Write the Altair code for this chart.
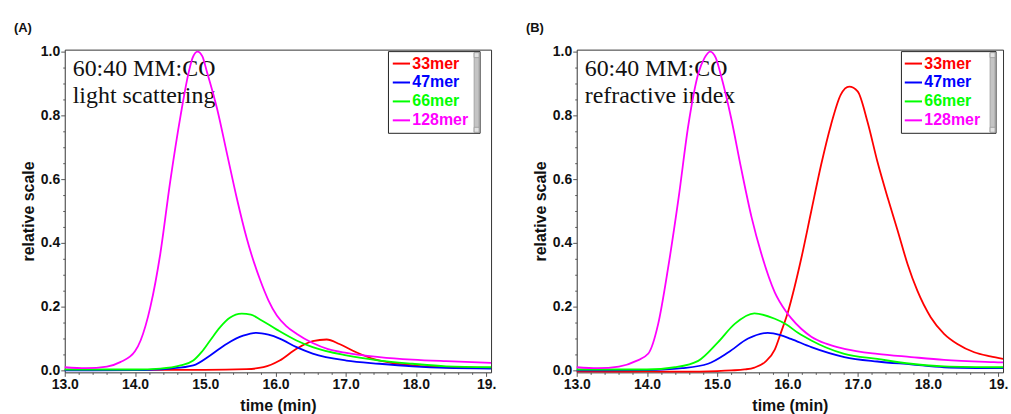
import altair as alt
import pandas as pd

# ---- series names and colours -------------------------------------------
names = ["33mer", "47mer", "66mer", "128mer"]
colors = ["#ff0000", "#0000ff", "#00ff00", "#ff00ff"]

# ---- (A) light scattering traces: retention time (min) / relative signal --
a33_t = [13.0, 15.0, 15.59, 15.83, 16.06, 16.3, 16.53, 16.73, 16.91, 17.15, 17.39, 17.67, 17.95, 18.43, 19.07]
a33_v = [0.002, 0.002, 0.004, 0.010, 0.031, 0.068, 0.092, 0.097, 0.083, 0.057, 0.036, 0.023, 0.016, 0.010, 0.008]

a47_t = [13.0, 14.0, 14.5, 14.83, 15.07, 15.31, 15.54, 15.73, 15.9, 16.06, 16.3, 16.53, 17.01, 17.48, 17.95, 18.43, 19.07]
a47_v = [0.0, 0.001, 0.006, 0.016, 0.047, 0.084, 0.109, 0.118, 0.112, 0.100, 0.073, 0.053, 0.031, 0.021, 0.013, 0.008, 0.006]

a66_t = [13.0, 14.0, 14.36, 14.65, 14.83, 14.95, 15.07, 15.21, 15.35, 15.52, 15.65, 15.78, 16.02, 16.3, 16.53, 17.01, 17.48,
         17.95, 18.43, 19.07]
a66_v = [0.003, 0.003, 0.006, 0.016, 0.031, 0.058, 0.094, 0.135, 0.165, 0.178, 0.175, 0.160, 0.128, 0.094, 0.073, 0.047, 0.031,
         0.021, 0.013, 0.010]

a128_t = [13.0, 13.3, 13.6, 13.79, 14.0, 14.08, 14.22, 14.36, 14.5, 14.65, 14.76, 14.82, 14.89, 14.96, 15.02, 15.17, 15.31,
          15.45, 15.59, 15.78, 15.9, 16.02, 16.15, 16.3, 16.53, 16.75, 17.01, 17.48, 17.95, 18.43, 19.07]
a128_v = [0.010, 0.007, 0.012, 0.026, 0.060, 0.094, 0.200, 0.365, 0.590, 0.800, 0.930, 0.980, 1.000, 0.985, 0.940, 0.820, 0.680,
          0.540, 0.415, 0.285, 0.220, 0.172, 0.140, 0.115, 0.086, 0.067, 0.055, 0.042, 0.034, 0.029, 0.024]

# ---- (B) refractive index traces -----------------------------------------
b33_t = [13.0, 13.5, 14.0, 14.5, 15.0, 15.2, 15.39, 15.53, 15.68, 15.82, 15.91, 16.01, 16.1, 16.2, 16.34, 16.48, 16.62,
         16.76, 16.88, 17.0, 17.14, 17.28, 17.43, 17.57, 17.71, 17.85, 18.04, 18.23, 18.42, 18.66, 18.89, 19.07]
b33_v = [-0.003, -0.004, -0.003, -0.004, -0.002, 0.0, 0.003, 0.009, 0.026, 0.065, 0.120, 0.185, 0.260, 0.354, 0.500, 0.645, 0.770,
         0.865, 0.890, 0.875, 0.780, 0.656, 0.540, 0.438, 0.334, 0.250, 0.167, 0.115, 0.083, 0.057, 0.044, 0.036]

b47_t = [13.0, 14.0, 14.5, 14.87, 15.16, 15.44, 15.72, 15.9, 16.05, 16.34, 16.81, 17.28, 17.76, 18.23, 19.07]
b47_v = [0.0, 0.001, 0.007, 0.021, 0.057, 0.100, 0.118, 0.111, 0.099, 0.073, 0.042, 0.028, 0.019, 0.010, 0.007]

b66_t = [13.0, 14.0, 14.4, 14.73, 15.01, 15.25, 15.53, 15.82, 15.98, 16.15, 16.34, 16.55, 16.81, 17.28, 17.76, 18.23, 19.07]
b66_v = [0.003, 0.003, 0.010, 0.030, 0.088, 0.146, 0.179, 0.162, 0.145, 0.118, 0.094, 0.072, 0.052, 0.036, 0.021, 0.013, 0.010]

b128_t = [13.0, 13.3, 13.6, 13.85, 14.02, 14.16, 14.3, 14.45, 14.59, 14.73, 14.82, 14.9, 14.98, 15.06, 15.2, 15.34, 15.49,
          15.63, 15.82, 15.98, 16.05, 16.2, 16.34, 16.55, 16.81, 17.28, 17.76, 18.23, 18.94, 19.07]
b128_v = [0.010, 0.007, 0.012, 0.030, 0.053, 0.146, 0.320, 0.540, 0.770, 0.930, 0.980, 1.000, 0.980, 0.920, 0.790, 0.635, 0.480,
          0.365, 0.245, 0.185, 0.165, 0.130, 0.106, 0.084, 0.068, 0.052, 0.042, 0.033, 0.026, 0.025]

# ---- axis tick values ------------------------------------------------------
x_ticks = [round(13.0 + 0.2 * i, 1) for i in range(31)]
y_ticks = [round(0.05 * i, 2) for i in range(21)]


def long_table(parts):
    rows = []
    for name, ts, vs in parts:
        for t, v in zip(ts, vs):
            rows.append({"time": t, "value": v, "series": name})
    return pd.DataFrame(rows)


data_a = long_table([("33mer", a33_t, a33_v), ("47mer", a47_t, a47_v),
                     ("66mer", a66_t, a66_v), ("128mer", a128_t, a128_v)])
data_b = long_table([("33mer", b33_t, b33_v), ("47mer", b47_t, b47_v),
                     ("66mer", b66_t, b66_v), ("128mer", b128_t, b128_v)])

label_color_expr = " : ".join(
    f"datum.value == '{n}' ? '{c}'" for n, c in zip(names[:-1], colors[:-1])
) + f" : '{colors[-1]}'"

PLOT_W, PLOT_H = 428, 324


def panel(df, tag, notes, box_x0, box_x1):
    x_axis = alt.Axis(
        values=x_ticks,
        title="time (min)",
        labelExpr="abs(datum.value - round(datum.value)) < 0.001 ? "
                  "(datum.value >= 18.99 ? '19.' : format(datum.value, '.1f')) : ''",
        tickSize={"condition": {"test": "abs(datum.value - round(datum.value)) < 0.001", "value": 4}, "value": 2},
        labelFlush=False,
        labelOverlap=False,
        grid=False,
    )
    y_axis = alt.Axis(
        values=y_ticks,
        title="relative scale",
        labelExpr="abs(datum.value * 5 - round(datum.value * 5)) < 0.001 ? format(datum.value, '.1f') : ''",
        tickSize={"condition": {"test": "abs(datum.value * 5 - round(datum.value * 5)) < 0.001", "value": 4}, "value": 2},
        labelFlush=False,
        labelOverlap=False,
        grid=False,
    )
    x_enc = alt.X("time:Q", scale=alt.Scale(domain=[13.0, 19.07], nice=False, zero=False), axis=x_axis)
    y_enc = alt.Y("value:Q", scale=alt.Scale(domain=[-0.006, 1.006], nice=False, zero=False), axis=y_axis)

    note = alt.Chart(pd.DataFrame({"note": [notes]})).mark_text(
        font="Liberation Serif", fontSize=24, align="left", baseline="alphabetic",
        lineBreak="\n", lineHeight=28, color="#111111",
    ).encode(text="note:N", x=alt.value(8), y=alt.value(26))

    lines = alt.Chart(df).mark_line(strokeWidth=1.8, interpolate="monotone").encode(
        x=x_enc,
        y=y_enc,
        color=alt.Color(
            "series:N",
            scale=alt.Scale(domain=names, range=colors),
            sort=names,
            legend=alt.Legend(
                title=None, orient="none", legendX=328, legendY=4, padding=0,
                symbolType="stroke", symbolSize=300, symbolStrokeWidth=2,
                labelFont="Liberation Sans", labelFontSize=16, labelFontWeight="bold",
                labelColor={"expr": label_color_expr}, labelOffset=1, rowPadding=1,
            ),
        ),
        order=alt.Order("time:Q"),
    )

    frame_src = pd.DataFrame({"k": [0]})
    box = alt.Chart(frame_src).mark_rect(fill="white", stroke="#222222", strokeWidth=1).encode(
        x=alt.value(box_x0), x2=alt.value(box_x1), y=alt.value(2), y2=alt.value(84))
    bar = alt.Chart(frame_src).mark_rect(fill="#c4c4c4", stroke="#9a9a9a", strokeWidth=0.8).encode(
        x=alt.value(box_x1 - 6), x2=alt.value(box_x1 - 1), y=alt.value(3), y2=alt.value(83))
    cap_top = alt.Chart(frame_src).mark_rect(fill="#e2e2e2", stroke="#9a9a9a", strokeWidth=0.8).encode(
        x=alt.value(box_x1 - 6), x2=alt.value(box_x1 - 1), y=alt.value(3), y2=alt.value(8))
    cap_bot = alt.Chart(frame_src).mark_rect(fill="#e2e2e2", stroke="#9a9a9a", strokeWidth=0.8).encode(
        x=alt.value(box_x1 - 6), x2=alt.value(box_x1 - 1), y=alt.value(78), y2=alt.value(83))

    return alt.layer(note, lines, box, bar, cap_top, cap_bot).properties(
        width=PLOT_W,
        height=PLOT_H,
        title=alt.TitleParams(tag, anchor="start", frame="group", dx=-51, offset=10,
                              font="Liberation Sans", fontSize=13, fontWeight="bold", color="#111111"),
    )


chart_a = panel(data_a, "(A)", "60:40 MM:CO\nlight scattering", 325, 417)
chart_b = panel(data_b, "(B)", "60:40 MM:CO\nrefractive index", 326, 421)

chart = alt.hconcat(chart_a, chart_b, spacing=86, bounds="flush").resolve_scale(
    color="independent"
).properties(
    padding={"left": 13, "top": 20, "right": 2, "bottom": 2},
    background="white",
).configure_view(
    stroke="#333333", strokeWidth=1,
).configure_axis(
    domain=False,
    tickColor="#555555",
    labelFont="Liberation Sans", labelFontSize=14, labelFontWeight="bold", labelColor="#111111",
    labelPadding=1,
    titleFont="Liberation Sans", titleFontSize=16, titleFontWeight="bold", titleColor="#111111",
).configure_axisX(
    titlePadding=6,
).configure_axisY(
    titlePadding=4,
)

chart.save("out.html", embed_options={"renderer": "svg", "actions": False})
